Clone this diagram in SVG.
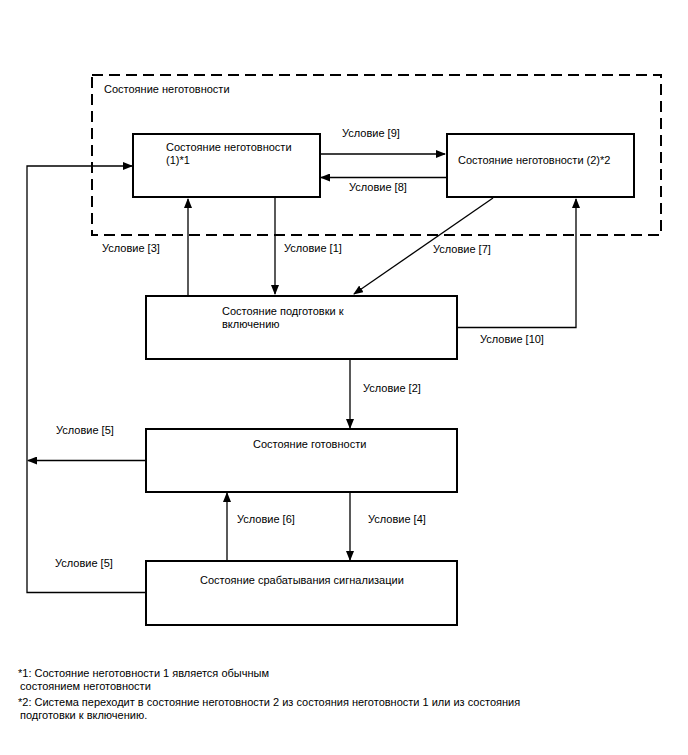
<svg xmlns="http://www.w3.org/2000/svg" width="688" height="755" viewBox="0 0 688 755">
<style>
text{font-family:"Liberation Sans",Arial,sans-serif;font-size:11px;fill:#000}
.box{fill:#fff;stroke:#000;stroke-width:2}
.ln{fill:none;stroke:#000;stroke-width:1.3}
.dash{fill:none;stroke:#000;stroke-width:2;stroke-dasharray:11,6}
</style>
<defs>
<marker id="ah" markerWidth="10" markerHeight="8" refX="9" refY="4" orient="auto" markerUnits="userSpaceOnUse">
<path d="M0,0 L10,4 L0,8 Z" fill="#000"/>
</marker>
</defs>
<rect width="688" height="755" fill="#fff"/>
<g id="group-notready">
<rect class="dash" x="92" y="75" width="569" height="160"/>
<text x="104" y="93">Состояние неготовности</text>
</g>
<g id="connectors">
<path class="ln" d="M320,154 L445,154" marker-end="url(#ah)"/>
<path class="ln" d="M446,177.5 L321,177.5" marker-end="url(#ah)"/>
<path class="ln" d="M188,295 L188,199" marker-end="url(#ah)"/>
<path class="ln" d="M275,198 L275,294" marker-end="url(#ah)"/>
<path class="ln" d="M493,198 L354,294" marker-end="url(#ah)"/>
<path class="ln" d="M458,327.5 L576,327.5 L576,199" marker-end="url(#ah)"/>
<path class="ln" d="M350,359 L350,428" marker-end="url(#ah)"/>
<path class="ln" d="M146,460.5 L28,460.5" marker-end="url(#ah)"/>
<path class="ln" d="M146,592.5 L27,592.5 L27,166 L132,166" marker-end="url(#ah)"/>
<path class="ln" d="M227,561 L227,493" marker-end="url(#ah)"/>
<path class="ln" d="M350,492 L350,560" marker-end="url(#ah)"/>
<text x="342" y="137">Условие [9]</text>
<text x="349" y="191">Условие [8]</text>
<text x="102" y="252">Условие [3]</text>
<text x="284" y="252">Условие [1]</text>
<text x="433" y="253">Условие [7]</text>
<text x="480" y="343">Условие [10]</text>
<text x="363" y="392">Условие [2]</text>
<text x="56" y="434">Условие [5]</text>
<text x="237" y="523">Условие [6]</text>
<text x="368" y="523">Условие [4]</text>
<text x="55" y="567">Условие [5]</text>
</g>
<g id="node-notready1">
<rect class="box" x="133" y="134" width="187" height="63"/>
<text x="166" y="151">Состояние неготовности</text>
<text x="166" y="164">(1)*1</text>
</g>
<g id="node-notready2">
<rect class="box" x="447" y="134" width="187" height="63"/>
<text x="458" y="164">Состояние неготовности (2)*2</text>
</g>
<g id="node-prepare">
<rect class="box" x="146" y="296" width="311" height="63"/>
<text x="222" y="315">Состояние подготовки к</text>
<text x="222" y="328">включению</text>
</g>
<g id="node-ready">
<rect class="box" x="146" y="429" width="311" height="63"/>
<text x="253" y="448">Состояние готовности</text>
</g>
<g id="node-alarm">
<rect class="box" x="146" y="561" width="311" height="64"/>
<text x="200" y="584">Состояние срабатывания сигнализации</text>
</g>
<g id="footnotes">
<text x="18" y="677">*1: Состояние неготовности 1 является обычным</text>
<text x="20" y="690">состоянием неготовности</text>
<text x="18" y="706">*2: Система переходит в состояние неготовности 2 из состояния неготовности 1 или из состояния</text>
<text x="20" y="719">подготовки к включению.</text>
</g>
</svg>
